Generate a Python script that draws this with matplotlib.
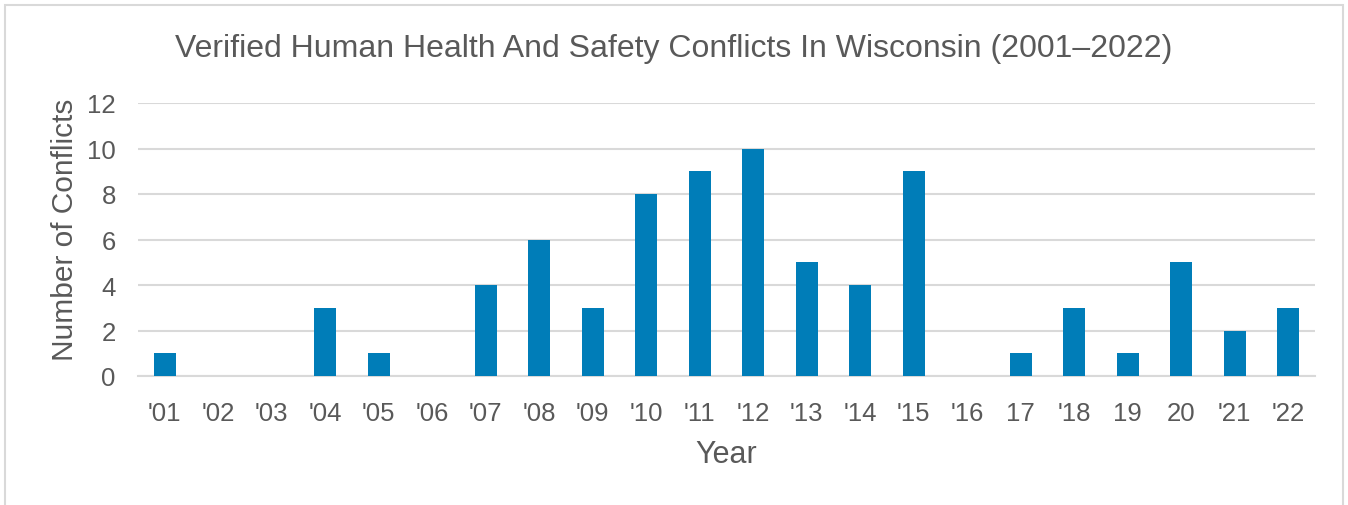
import matplotlib
matplotlib.use("Agg")
import matplotlib.pyplot as plt
from matplotlib.patches import Rectangle

plt.rcParams['font.family'] = ['Liberation Sans', 'DejaVu Sans']

years = ["'01", "'02", "'03", "'04", "'05", "'06", "'07", "'08", "'09", "'10", "'11",
         "'12", "'13", "'14", "'15", "'16", "17", "'18", "19", "20", "'21", "'22"]
conflicts = [1, 0, 0, 3, 1, 0, 4, 6, 3, 8, 9, 10, 5, 4, 9, 0, 1, 3, 1, 5, 2, 3]

text_color = '#595959'
grid_color = '#D9D9D9'
bar_color = '#007DB8'

fig = plt.figure(figsize=(13.48, 5.06), dpi=100)
ax = fig.add_axes([138 / 1348, 1 - 377 / 506, (1315 - 138) / 1348, (377 - 104) / 506])

x = list(range(len(years)))
ax.bar(x, conflicts, width=0.41, color=bar_color, zorder=3)

ax.set_xlim(-0.5, len(years) - 0.5)
ax.set_ylim(0, 12)
ax.set_yticks(range(0, 13, 2))
ax.set_xticks(x)
ax.set_xticklabels(years)
ax.grid(axis='y', color=grid_color, linewidth=1.5, zorder=0)
ax.tick_params(length=0, labelsize=18.5, colors=text_color)
ax.tick_params(axis='x', pad=18)
ax.tick_params(axis='y', pad=16)
for s in ['top', 'right', 'left']:
    ax.spines[s].set_visible(False)
ax.spines['bottom'].set_color(grid_color)
ax.spines['bottom'].set_linewidth(1.5)

ax.set_xlabel('Year', fontsize=22, color=text_color, labelpad=10)
ax.set_ylabel('Number of Conflicts', fontsize=21.5, color=text_color, labelpad=6)
ax.yaxis.label.set_y(0.54)
fig.text(0.5, 1 - 49 / 506, 'Verified Human Health And Safety Conflicts In Wisconsin (2001\u20132022)',
         ha='center', va='center', fontsize=23, color=text_color)

# light frame around the chart
fig.patches.append(Rectangle((5 / 1348, -0.2), (1343 - 5) / 1348, 1.2 - 6 / 506,
                             transform=fig.transFigure, fill=False,
                             edgecolor=grid_color, linewidth=1.5))

fig.savefig('out.png', dpi=100)
